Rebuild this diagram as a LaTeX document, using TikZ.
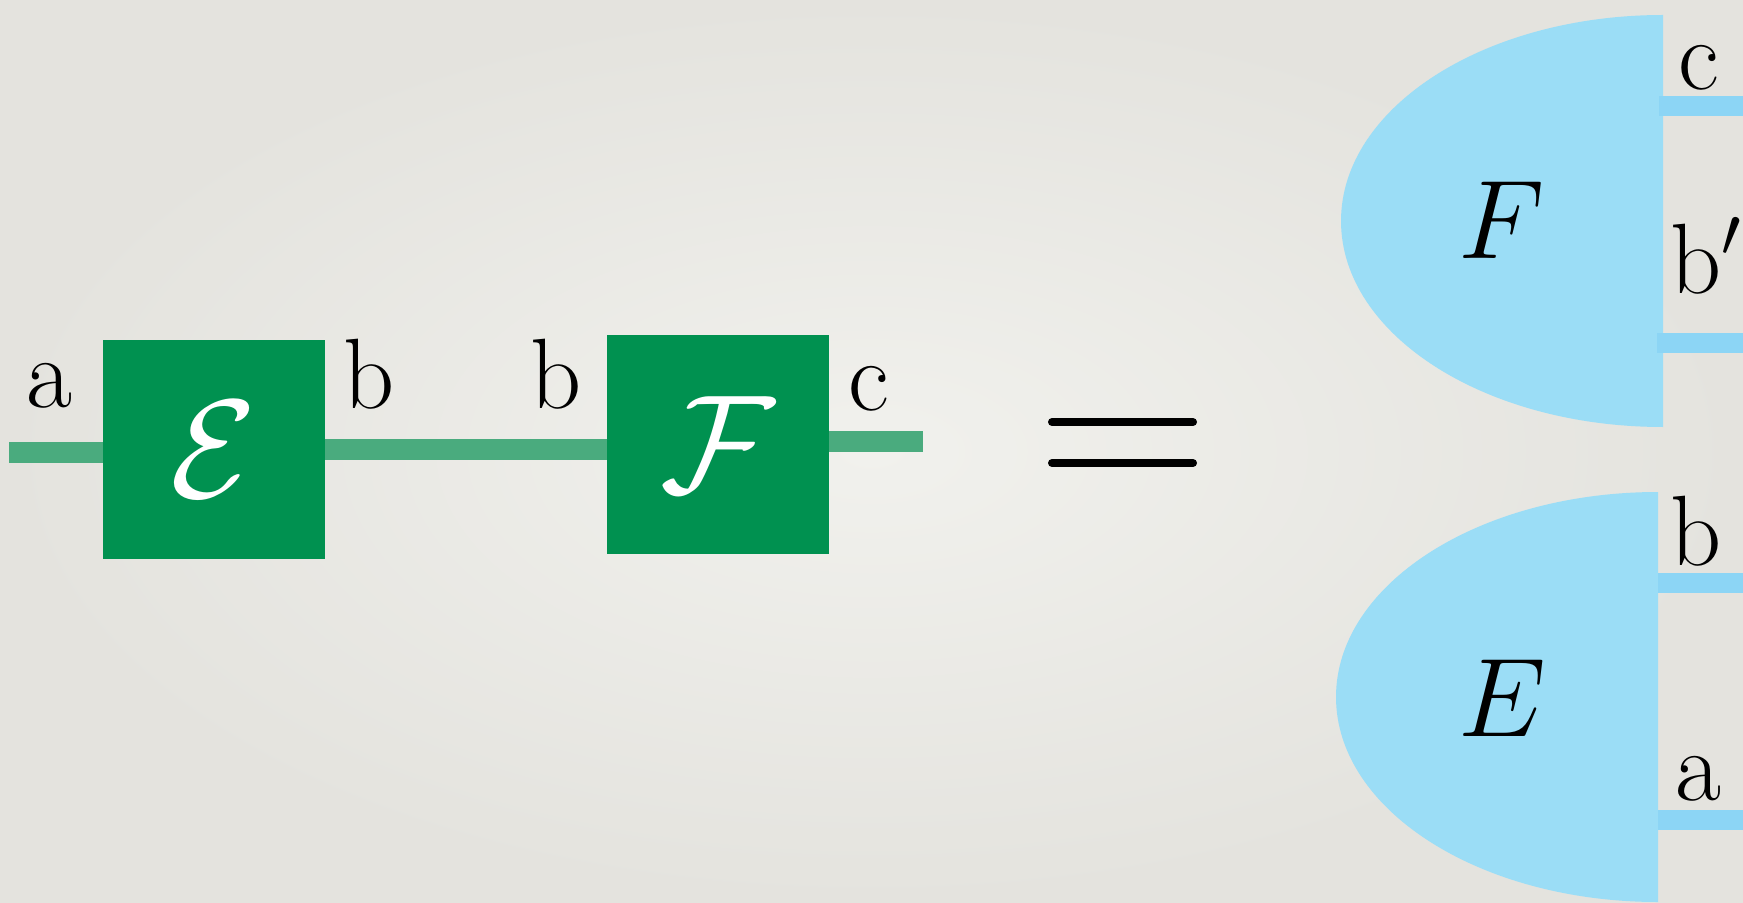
\RequirePackage{fix-cm}
\documentclass[tikz,border=0pt]{standalone}
\usepackage[dvipsnames]{xcolor}
\usepackage{amsmath}
\definecolor{boxgreen}{RGB}{0,145,80}
\definecolor{wiregreen}{RGB}{74,171,126}
\definecolor{stateblue}{RGB}{155,221,246}
\definecolor{wireblue}{RGB}{140,213,245}
\definecolor{slidein}{RGB}{241,241,237}
\definecolor{slideout}{RGB}{228,227,222}

\begin{document}
\begin{tikzpicture}[x=.5pt,y=-.5pt,
    gate/.style={fill=boxgreen,text=white,minimum width=111pt,minimum height=109.5pt,inner sep=0pt,font=\fontsize{70}{70}\selectfont},
    gwire/.style={wiregreen,line width=10.5pt},
    bwire/.style={wireblue,line width=10pt},
    lbl/.style={anchor=base,inner sep=0pt,font=\fontsize{50}{50}\selectfont},
    rlbl/.style={anchor=base west,inner sep=0pt,font=\fontsize{50}{50}\selectfont},
    state/.style={fill=stateblue},
    slbl/.style={inner sep=0pt,font=\fontsize{56}{56}\selectfont},
    eqbar/.style={line width=4pt,line cap=round}]
        \useasboundingbox (0,0) rectangle (1743,903);
        \shade[inner color=slidein,outer color=slideout] (0,0) rectangle (1743,903);
        \node[gate] (E) at (214,449.5) {$\mathcal{E}$};
        \node[gate] (F) at (718,444.5) {$\mathcal{F}$};
        \coordinate (ain) at (9,452);
        \coordinate (cout) at (923,441);
        \draw[gwire] (ain) -- (ain -| E.west);
        \draw[gwire] (E.east) -- (E.east -| F.west);
        \draw[gwire] (F.east |- cout) -- (cout);
        \node[lbl] (la) at (49,407) {a};
        \node[lbl] (lb1) at (369,408) {b};
        \node[lbl] (lb2) at (556,408) {b};
        \node[lbl] (lc) at (869,410) {c};
        \draw[eqbar] (1052,422) -- (1193,422);
        \draw[eqbar] (1052,463) -- (1193,463);
        \fill[state] (1663,15) arc[start angle=270,end angle=90,x radius=322,y radius=206] -- cycle;
        \fill[state] (1658,492) arc[start angle=270,end angle=90,x radius=322,y radius=205] -- cycle;
        \node[slbl] (sF) at (1502,220) {$F$};
        \node[slbl] (sE) at (1502,698) {$E$};
        \coordinate (Fc) at (1659,106);
        \coordinate (Fb) at (1657,343);
        \coordinate (Eb) at (1658,583);
        \coordinate (Ea) at (1658,820);
        \draw[bwire] (Fc) -- (Fc -| 1743,0);
        \draw[bwire] (Fb) -- (Fb -| 1743,0);
        \draw[bwire] (Eb) -- (Eb -| 1743,0);
        \draw[bwire] (Ea) -- (Ea -| 1743,0);
        \node[rlbl] (rc) at (1678,90) {c};
        \node[rlbl] (rb1) at (1670,293) {b$'$};
        \node[rlbl] (rb2) at (1670,565) {b};
        \node[rlbl] (ra) at (1675,800) {a};
    \end{tikzpicture}
\end{document}
